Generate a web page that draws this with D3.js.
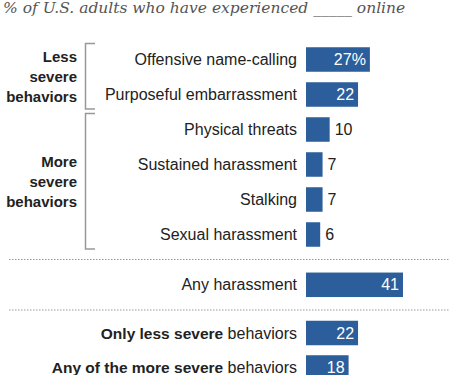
<!DOCTYPE html>
<html>
<head>
<meta charset="utf-8">
<script src="https://cdn.jsdelivr.net/npm/d3@7"></script>
<style>
  body { margin: 0; background: #fff; }
  svg { display: block; }
</style>
</head>
<body>
<div id="chart"></div>
<script>
// Daten
const categories = [
  "Offensive name-calling",
  "Purposeful embarrassment",
  "Physical threats",
  "Sustained harassment",
  "Stalking",
  "Sexual harassment",
  "Any harassment",
  "Only less severe behaviors",
  "Any of the more severe behaviors"
];
const values = [27, 22, 10, 7, 7, 6, 41, 22, 18];
const valueLabels = ["27%", "22", "10", "7", "7", "6", "41", "22", "18"];
// fette Teile der unteren Beschriftungen
const boldParts = ["", "", "", "", "", "", "", "Only less severe", "Any of the more severe"];
const groups = [
  { name: ["Less", "severe", "behaviors"], from: 0, to: 1 },
  { name: ["More", "severe", "behaviors"], from: 2, to: 5 }
];
const titleText = "% of U.S. adults who have experienced _____ online";

const width = 450, height = 375;
const barColor = "#2b5e9a";
const textColor = "#222";

const svg = d3.select("#chart").append("svg")
  .attr("width", width)
  .attr("height", height);

// Skalen
const x = d3.scaleLinear().domain([0, 41]).range([306, 403]);
const rowY = [59.5, 94.5, 129.5, 164.5, 199.5, 234.5, 284.8, 333, 367.5];
const y = d3.scaleOrdinal().domain(categories).range(rowY);
const barH = 24.5;

// Titel
svg.append("text")
  .attr("x", 3)
  .attr("y", 13)
  .style("font-family", "'DejaVu Serif', serif")
  .style("font-style", "italic")
  .style("font-size", "15.5px")
  .style("fill", "#555")
  .text(titleText);

// Balken
svg.selectAll(".bar")
  .data(categories)
  .join("rect")
  .attr("class", "bar")
  .attr("x", x(0))
  .attr("y", d => y(d) - barH / 2)
  .attr("width", (d, i) => x(values[i]) - x(0))
  .attr("height", barH)
  .attr("fill", barColor);

// Kategorien
const labels = svg.selectAll(".cat")
  .data(categories)
  .join("text")
  .attr("class", "cat")
  .attr("x", 297)
  .attr("y", d => y(d))
  .attr("dy", "0.35em")
  .attr("text-anchor", "end")
  .style("font-family", "'Liberation Sans', Arial, sans-serif")
  .style("font-size", "16px")
  .style("fill", textColor);

labels.each(function(d, i) {
  const t = d3.select(this);
  if (boldParts[i]) {
    t.append("tspan").style("font-weight", "bold").style("font-size", "15.5px").text(boldParts[i]);
    t.append("tspan").text(d.slice(boldParts[i].length));
  } else {
    t.text(d);
  }
});

// Werte
svg.selectAll(".val")
  .data(categories)
  .join("text")
  .attr("class", "val")
  .attr("x", (d, i) => values[i] >= 15 ? x(values[i]) - 4 : x(values[i]) + 5)
  .attr("y", d => y(d))
  .attr("dy", "0.35em")
  .attr("text-anchor", (d, i) => values[i] >= 15 ? "end" : "start")
  .style("font-family", "'Liberation Sans', Arial, sans-serif")
  .style("font-size", "16px")
  .style("fill", (d, i) => values[i] >= 15 ? "#fff" : textColor)
  .text((d, i) => valueLabels[i]);

// Gruppen mit Klammern
groups.forEach(g => {
  const top = y(categories[g.from]) - 16;
  const bottom = y(categories[g.to]) + 14.5;
  svg.append("path")
    .attr("d", `M95,${top}H85.5V${bottom}H95`)
    .attr("fill", "none")
    .attr("stroke", "#999")
    .attr("stroke-width", 1.5);
  const mid = (top + bottom) / 2;
  svg.append("text")
    .attr("x", 77)
    .attr("y", mid - 20)
    .attr("text-anchor", "end")
    .style("font-family", "'Liberation Sans', Arial, sans-serif")
    .style("font-size", "15px")
    .style("font-weight", "bold")
    .style("fill", textColor)
    .selectAll("tspan")
    .data(g.name)
    .join("tspan")
    .attr("x", 77)
    .attr("dy", (d, i) => i === 0 ? "0.35em" : "20px")
    .text(d => d);
});

// gepunktete Trennlinien
[259.5, 310].forEach(ly => {
  svg.append("line")
    .attr("x1", 9).attr("x2", 450)
    .attr("y1", ly).attr("y2", ly)
    .attr("stroke", "#999")
    .attr("stroke-width", 1)
    .attr("stroke-dasharray", "1.5,1.5");
});
</script>
</body>
</html>
